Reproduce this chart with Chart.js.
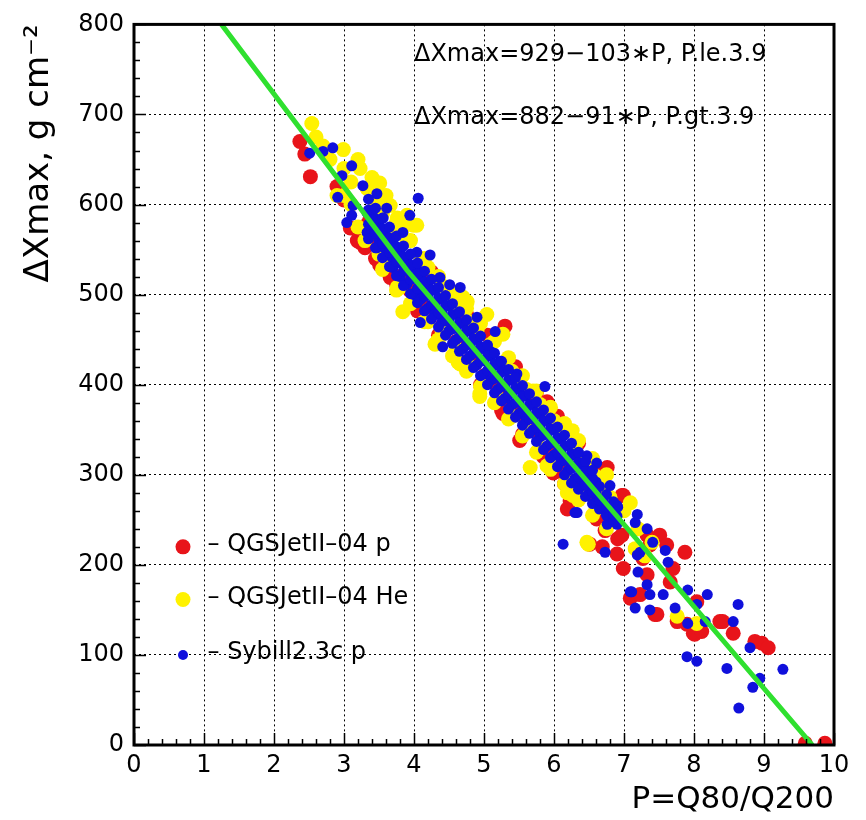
<!DOCTYPE html>
<html>
<head>
<meta charset="utf-8">
<script src="https://cdn.jsdelivr.net/npm/chart.js@4.4.1/dist/chart.umd.min.js"></script>
<style>
  body { margin: 0; background: #fff; }
  #wrap { width: 866px; height: 820px; }
</style>
</head>
<body>
<div id="wrap"><canvas id="myChart" width="866" height="820"></canvas></div>
<script>
// fit line
const fitX = [1.25, 3.9, 9.69];
const fitY = [800, 527, 0];

// QGSJetII-04 p
const redPoints = [
  [2.37,670],[2.44,656],[2.52,631],[2.9,620],[3.0,605],[3.09,574],[3.19,560],[3.23,558],[3.3,552],
  [3.35,580],[3.4,560],[3.51,533],[3.6,540],[3.66,519],[3.7,550],[3.8,520],[3.94,505],[4.0,500],
  [4.1,530],[4.2,485],[4.4,465],[4.5,490],[4.6,448],[4.8,428],[4.9,455],[5.0,410],[5.2,395],
  [5.27,368],[5.3,420],[5.3,465],[5.4,375],[5.51,338],[5.6,360],[5.7,385],[5.8,345],[5.9,381],
  [5.99,302],[6.0,325],[6.04,304],[6.1,350],[6.19,262],[6.2,310],[6.23,271],[6.4,290],[6.5,315],
  [6.51,223],[6.6,275],[6.61,251],[6.69,220],[6.73,238],[6.76,308],[6.83,269],[6.9,212],[6.91,229],
  [6.97,277],[6.97,233],[6.99,277],[6.99,196],[7.09,163],[7.23,167],[7.27,207],[7.33,233],[7.33,189],
  [7.37,222],[7.44,145],[7.47,145],[7.51,233],[7.61,222],[7.66,181],[7.7,196],[7.76,137],[7.87,214],
  [7.9,134],[7.99,124],[8.01,123],[8.04,159],[8.11,126],[8.37,137],[8.41,137],[8.56,124],[8.87,115],
  [8.97,113],[9.06,108],[9.59,2],[9.87,2],
  [3.45,540],[3.75,512],[4.05,482],[4.35,455],[4.65,425],[4.95,400],[5.25,372],[5.55,345],[5.85,320],
  [6.15,290],[4.25,525],[4.75,478],[5.05,455],[5.45,420],[5.75,392],[6.05,365],[6.35,335],[6.65,305]
];

// QGSJetII-04 He
const yellowPoints = [
  [2.54,690],[2.6,675],[2.7,665],[2.8,650],[2.9,610],[2.99,661],[3.0,640],[3.0,610],[3.1,625],
  [3.1,600],[3.2,650],[3.2,575],[3.23,640],[3.3,560],[3.33,618],[3.4,630],[3.45,600],[3.5,545],
  [3.51,624],[3.55,590],[3.6,610],[3.6,535],[3.66,599],[3.7,570],[3.76,585],[3.76,508],[3.8,508],
  [3.84,574],[3.84,481],[3.9,588],[3.9,560],[3.99,577],[4.0,495],[4.04,577],[4.1,540],[4.2,530],
  [4.2,470],[4.3,445],[4.33,448],[4.4,510],[4.4,460],[4.5,495],[4.6,485],[4.6,440],[4.63,425],
  [4.66,423],[4.7,497],[4.76,492],[4.8,470],[4.8,420],[4.9,460],[4.94,390],[4.94,387],[5.0,405],
  [5.04,478],[5.1,445],[5.2,385],[5.27,456],[5.3,425],[5.4,415],[5.4,365],[5.5,405],[5.6,395],
  [5.6,350],[5.61,393],[5.66,308],[5.7,393],[5.8,378],[5.8,330],[5.9,370],[5.9,310],[6.0,360],
  [6.0,315],[6.1,350],[6.19,280],[6.2,295],[6.2,280],[6.26,349],[6.27,277],[6.3,330],[6.4,318],
  [6.4,280],[6.47,225],[6.49,223],[6.5,305],[6.6,298],[6.6,262],[6.7,285],[6.8,275],[7.0,260],
  [7.09,269],[7.16,218],[7.2,240],[7.3,210],[7.4,225],[7.76,143],[8.04,135],
  [3.55,600],[3.55,528],[3.75,580],[3.75,505],[3.95,560],[3.95,490],[4.15,540],[4.15,470],
  [4.35,520],[4.35,450],[4.55,503],[4.55,432],[4.75,485],[4.75,415],[4.95,468],[4.95,398],
  [5.15,448],[5.15,380],[5.35,430],[5.35,362],[5.55,410],[5.55,343],[5.75,393],[5.75,325],
  [5.95,375],[5.95,306],[6.15,357],[6.15,290],[6.35,338],[6.35,272],[6.55,318],[6.55,255],
  [6.75,300],[6.75,240]
];

// Sybill2.3c p
const bluePoints = [
  [2.51,657],[2.7,659],[2.84,663],[2.91,608],[2.97,632],[3.04,580],[3.11,643],[3.11,588],[3.13,599],
  [3.27,621],[3.33,591],[3.33,569],[3.47,612],[3.47,552],[3.56,585],[3.61,596],[3.61,544],[3.84,569],
  [3.94,588],[4.04,547],[4.06,607],[4.09,525],[4.09,469],[4.23,544],[4.37,519],[4.41,442],[4.51,511],
  [4.66,508],[4.9,475],[5.09,437],[5.16,459],[5.23,426],[5.47,412],[5.87,398],[6.47,321],[6.61,313],
  [6.8,288],[6.9,266],[6.13,223],[6.3,258],[6.33,258],[6.73,214],[6.76,245],[6.91,264],[7.09,170],
  [7.11,170],[7.16,247],[7.16,152],[7.19,211],[7.19,256],[7.2,192],[7.23,214],[7.33,178],[7.33,240],
  [7.37,167],[7.37,150],[7.41,225],[7.56,167],[7.59,216],[7.63,203],[7.73,152],[7.9,98],[7.91,172],
  [7.91,135],[8.04,156],[8.04,93],[8.16,137],[8.19,167],[8.47,85],[8.56,137],[8.63,156],[8.64,41],
  [8.8,108],[8.84,64],[8.94,74],[9.27,84],
  [3.4,572],[3.4,590],[3.5,560],[3.5,580],[3.6,550],[3.6,565],[3.7,540],[3.7,558],[3.7,530],
  [3.8,535],[3.8,548],[3.8,520],[3.9,527],[3.9,540],[3.9,512],[4.0,518],[4.0,530],[4.0,500],
  [4.1,505],[4.1,520],[4.1,495],[4.2,500],[4.2,512],[4.2,485],[4.3,490],[4.3,505],[4.3,478],
  [4.4,480],[4.4,495],[4.4,470],[4.5,472],[4.5,488],[4.5,460],[4.6,463],[4.6,478],[4.6,450],
  [4.7,455],[4.7,468],[4.7,440],[4.8,445],[4.8,460],[4.8,432],[4.9,436],[4.9,450],[4.9,422],
  [5.0,427],[5.0,440],[5.0,412],[5.1,418],[5.1,432],[5.1,405],[5.2,409],[5.2,422],[5.2,395],
  [5.3,400],[5.3,415],[5.3,385],[5.4,391],[5.4,405],[5.4,378],[5.5,381],[5.5,395],[5.5,368],
  [5.6,372],[5.6,388],[5.6,360],[5.7,363],[5.7,378],[5.7,350],[5.8,354],[5.8,368],[5.8,342],
  [5.9,345],[5.9,360],[5.9,332],[6.0,336],[6.0,350],[6.0,322],[6.1,327],[6.1,340],[6.1,315],
  [6.2,318],[6.2,332],[6.2,305],[6.3,309],[6.3,322],[6.3,296],[6.4,300],[6.4,312],[6.4,288],
  [6.5,290],[6.5,302],[6.5,280],[6.6,281],[6.6,292],[6.6,270],[6.7,272],[6.7,262],[6.8,263],
  [6.8,255],[6.9,254],[6.9,245],
  [3.35,562],[3.35,578],[3.35,594],[3.35,606],[3.45,552],[3.45,568],[3.45,584],[3.45,596],
  [3.55,541],[3.55,557],[3.55,573],[3.55,585],[3.65,531],[3.65,547],[3.65,563],[3.65,575],
  [3.75,521],[3.75,537],[3.75,553],[3.75,565],[3.85,510],[3.85,526],[3.85,542],[3.85,554],
  [3.95,501],[3.95,517],[3.95,533],[3.95,545],[4.05,491],[4.05,507],[4.05,523],[4.05,535],
  [4.15,482],[4.15,498],[4.15,514],[4.15,526],[4.25,473],[4.25,489],[4.25,505],[4.25,517],
  [4.35,464],[4.35,480],[4.35,496],[4.35,508],[4.45,455],[4.45,471],[4.45,487],[4.45,499],
  [4.55,446],[4.55,462],[4.55,478],[4.55,490],[4.65,437],[4.65,453],[4.65,469],[4.65,481],
  [4.75,428],[4.75,444],[4.75,460],[4.75,472],[4.85,419],[4.85,435],[4.85,451],[4.85,463],
  [4.95,410],[4.95,426],[4.95,442],[4.95,454],[5.05,400],[5.05,416],[5.05,432],[5.05,444],
  [5.15,391],[5.15,407],[5.15,423],[5.15,435],[5.25,382],[5.25,398],[5.25,414],[5.25,426],
  [5.35,373],[5.35,389],[5.35,405],[5.35,417],[5.45,364],[5.45,380],[5.45,396],[5.45,408],
  [5.55,355],[5.55,371],[5.55,387],[5.55,399],[5.65,346],[5.65,362],[5.65,378],[5.65,390],
  [5.75,337],[5.75,353],[5.75,369],[5.75,381],[5.85,328],[5.85,344],[5.85,360],[5.85,372],
  [5.95,319],[5.95,335],[5.95,351],[5.95,363],[6.05,309],[6.05,325],[6.05,341],[6.05,353],
  [6.15,300],[6.15,316],[6.15,332],[6.15,344],[6.25,291],[6.25,307],[6.25,323],[6.25,335],
  [6.35,284],[6.35,298],[6.35,314],[6.35,325],[6.45,276],[6.45,289],[6.45,305],[6.45,315],
  [6.55,268],[6.55,280],[6.55,296],[6.55,305],[6.65,262],[6.65,272],[6.65,287],
  [6.75,255],[6.75,264],[6.75,278],[6.85,248],[6.85,256],[6.85,270]
];

const seriesNames = ["QGSJetII\u201304 p", "QGSJetII\u201304 He", "Sybill2.3c p"];
const fitNotes = ["\u0394Xmax=929\u2212103\u2217P, P.le.3.9", "\u0394Xmax=882\u221291\u2217P, P.gt.3.9"];

const RED = "#e8141a";
const YELLOW = "#fff200";
const BLUE = "#1010dc";
const GREEN = "#2fe02f";
const FONT = "'DejaVu Sans', Verdana, sans-serif";

function toXY(arr) {
  return arr.map((p) => ({ x: p[0], y: p[1] }));
}

// frame, inner ticks, fit formulas and legend (ROOT style)
const rootStyle = {
  id: "rootStyle",
  afterDatasetsDraw(chart) {
    const ctx = chart.ctx;
    const a = chart.chartArea;
    const xs = chart.scales.x;
    const ys = chart.scales.y;
    ctx.save();
    ctx.strokeStyle = "#000";
    ctx.lineWidth = 1.5;
    ctx.beginPath();
    for (let v = 0; v <= 10.001; v += 0.2) {
      const px = Math.round(xs.getPixelForValue(v)) + 0.5;
      const major = Math.abs(v - Math.round(v)) < 0.01;
      ctx.moveTo(px, a.bottom);
      ctx.lineTo(px, a.bottom - (major ? 12 : 6));
    }
    for (let v = 0; v <= 800; v += 20) {
      const py = Math.round(ys.getPixelForValue(v)) + 0.5;
      const major = v % 100 === 0;
      ctx.moveTo(a.left, py);
      ctx.lineTo(a.left + (major ? 12 : 6), py);
    }
    ctx.stroke();
    ctx.lineWidth = 3;
    ctx.strokeRect(a.left, a.top, a.right - a.left, a.bottom - a.top);

    // fit formulas
    ctx.fillStyle = "#000";
    ctx.font = "24px " + FONT;
    ctx.textAlign = "left";
    ctx.textBaseline = "middle";
    ctx.fillText(fitNotes[0], xs.getPixelForValue(4.0), ys.getPixelForValue(766));
    ctx.fillText(fitNotes[1], xs.getPixelForValue(4.0), ys.getPixelForValue(696));

    // legend
    const legend = [
      { c: RED, r: 7.5, y: 220 },
      { c: YELLOW, r: 7.5, y: 161.5 },
      { c: BLUE, r: 5, y: 100 },
    ];
    legend.forEach((l, i) => {
      const py = ys.getPixelForValue(l.y);
      ctx.fillStyle = l.c;
      ctx.beginPath();
      ctx.arc(xs.getPixelForValue(0.7), py, l.r, 0, Math.PI * 2);
      ctx.fill();
      ctx.fillStyle = "#000";
      ctx.fillText("\u2013 " + seriesNames[i], xs.getPixelForValue(1.05), py - 2);
    });
    ctx.restore();
  },
};

const ctx = document.getElementById("myChart").getContext("2d");
const chart = new Chart(ctx, {
  type: "scatter",
  data: {
    datasets: [
      {
        type: "line",
        data: toXY(fitX.map((x, i) => [x, fitY[i]])),
        borderColor: GREEN,
        borderWidth: 5,
        pointRadius: 0,
        fill: false,
        order: 0,
      },
      {
        data: toXY(bluePoints),
        backgroundColor: BLUE,
        pointRadius: 5.5,
        pointBorderWidth: 0,
        order: 1,
      },
      {
        data: toXY(yellowPoints),
        backgroundColor: YELLOW,
        pointRadius: 7.5,
        pointBorderWidth: 0,
        order: 2,
      },
      {
        data: toXY(redPoints),
        backgroundColor: RED,
        pointRadius: 7.5,
        pointBorderWidth: 0,
        order: 3,
      },
    ],
  },
  options: {
    responsive: false,
    animation: false,
    layout: { padding: { top: 17, right: 32, left: 0, bottom: 0 } },
    plugins: {
      legend: { display: false },
      tooltip: { enabled: false },
    },
    scales: {
      x: {
        type: "linear",
        min: 0,
        max: 10,
        ticks: {
          stepSize: 1,
          color: "#000",
          padding: 6,
          maxRotation: 0,
          font: { family: FONT, size: 24 },
        },
        grid: { color: "#000", lineWidth: 1, drawTicks: false },
        border: { display: false, dash: [2, 3] },
        title: {
          display: true,
          text: "P=Q80/Q200",
          align: "end",
          color: "#000",
          font: { family: FONT, size: 31 },
          padding: { top: 0, bottom: 1 },
        },
        afterFit(s) {
          s.height = 75;
        },
      },
      y: {
        type: "linear",
        min: 0,
        max: 800,
        ticks: {
          stepSize: 100,
          color: "#000",
          padding: 10,
          font: { family: FONT, size: 24 },
        },
        grid: { color: "#000", lineWidth: 1, drawTicks: false },
        border: { display: false, dash: [2, 3] },
        title: {
          display: true,
          text: "\u0394Xmax, g cm\u207B\u00B2",
          align: "end",
          color: "#000",
          font: { family: FONT, size: 34 },
          padding: { top: 19, bottom: 0 },
        },
        afterFit(s) {
          s.width = 134;
        },
      },
    },
  },
  plugins: [rootStyle],
});
</script>
</body>
</html>
